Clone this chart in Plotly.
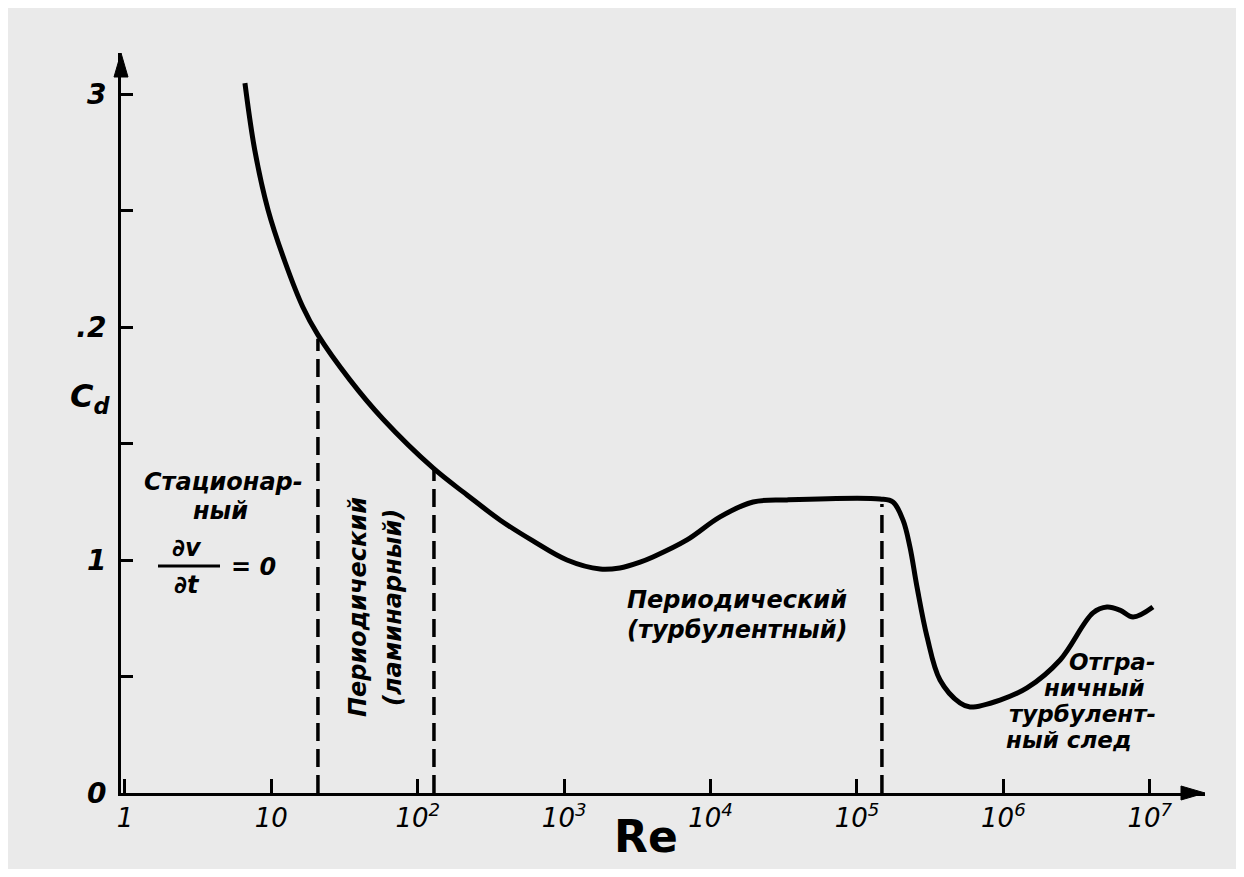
import plotly.graph_objects as go

# ---- data ----
re_curve = [6.6, 7.7, 9.5, 12.4, 16.4, 20.8, 34.4, 57.8, 127, 217, 364, 612, 1045, 1760,
            2400, 3300, 4040, 6900, 11600, 19500, 33300, 143500, 176000, 206000,
            230000, 257000, 301000, 369000, 506000, 592000, 948000, 1.45e6, 2.44e6,
            4.09e6, 5.1e6, 6.25e6, 7.68e6, 1.05e7]
cd_curve = [3.047, 2.76, 2.502, 2.279, 2.086, 1.966, 1.773, 1.605, 1.395, 1.279, 1.172, 1.082,
            1.0, 0.961, 0.966, 0.991, 1.013, 1.086, 1.185, 1.249, 1.258, 1.262, 1.249, 1.172,
            1.056, 0.884, 0.67, 0.485, 0.386, 0.369, 0.399, 0.451, 0.571,
            0.773, 0.798, 0.785, 0.755, 0.798]

boundary_re = [20.8, 129, 148000]
boundary_cd = [1.95, 1.39, 1.24]

x_tick_vals = [1, 10, 100, 1e3, 1e4, 1e5, 1e6, 1e7]
x_tick_text = ["1", "10", "10<sup>2</sup>", "10<sup>3</sup>", "10<sup>4</sup>",
               "10<sup>5</sup>", "10<sup>6</sup>", "10<sup>7</sup>"]
y_tick_vals = [0, 1, 2, 3]
y_tick_text = ["0", "1", ".2", "3"]
y_minor_vals = [0.5, 1.5, 2.5]

# ---- layout geometry (page has an 8px body margin) ----
OFF = 8
W, H = 1228, 861
L, R, T, B = 113, 31, 45, 76
PW, PH = W - L - R, H - T - B
BG = "#eaeaea"
FONT = "DejaVu Sans"


def px(xp):
    return (xp - OFF - L) / PW


def py(yp):
    return (H - B - (yp - OFF)) / PH


fig = go.Figure()

for r, c in zip(boundary_re, boundary_cd):
    fig.add_trace(go.Scatter(x=[r, r], y=[0, c], mode="lines",
                             line=dict(color="black", width=3.5, dash="18px,8px"),
                             hoverinfo="skip", showlegend=False))

fig.add_trace(go.Scatter(x=re_curve, y=cd_curve, mode="lines",
                         line=dict(color="black", width=5, shape="spline", smoothing=1.0),
                         showlegend=False))

ann = []
it = dict(family=FONT, size=24, color="black", style="italic", weight="bold")
it_small = dict(family=FONT, size=23, color="black", style="italic", weight="bold")


def txt(text, xp, yp, font=it, **kw):
    ann.append(dict(text=text, x=px(xp), y=py(yp), xref="paper", yref="paper",
                    showarrow=False, font=font, xanchor="center", yanchor="middle", **kw))


txt("Стационар-", 223, 482)
txt("ный", 220, 511)
txt("∂v", 187, 548)
txt("∂t", 187, 585)
txt("= 0", 253, 567)
txt("Периодический", 358, 607, textangle=-90)
txt("(ламинарный)", 393, 608, textangle=-90)
txt("Периодический", 737, 600)
txt("(турбулентный)", 737, 630)
txt("Отгра-", 1112, 662, font=it_small)
txt("ничный", 1094, 688, font=it_small)
txt("турбулент-", 1082, 714, font=it_small)
txt("ный след", 1068, 740, font=it_small)
txt("Re", 646, 836, font=dict(family=FONT, size=44, color="black", weight="bold"))
txt("C<sub>d</sub>", 90, 398, font=dict(family=FONT, size=32, color="black",
                                          style="italic", weight="bold"))

# axis arrowheads as filled triangles (paper coordinates)
ax_len, ax_half = 24 / PW, 7 / PH
ay_len, ay_half = 24 / PH, 7 / PW
shapes = [
    dict(type="path", xref="paper", yref="paper",
         path=f"M 1,0 L {1 - ax_len},{ax_half} L {1 - ax_len},{-ax_half} Z",
         fillcolor="black", line=dict(color="black", width=1)),
    dict(type="path", xref="paper", yref="paper",
         path=f"M 0,1 L {-ay_half},{1 - ay_len} L {ay_half},{1 - ay_len} Z",
         fillcolor="black", line=dict(color="black", width=1)),
    dict(type="line", xref="paper", yref="paper", x0=px(158), x1=px(220),
         y0=py(566), y1=py(566), line=dict(color="black", width=3)),
]

fig.update_layout(
    width=W, height=H,
    margin=dict(l=L, r=R, t=T, b=B),
    paper_bgcolor=BG, plot_bgcolor=BG,
    annotations=ann, shapes=shapes,
    xaxis=dict(type="log", range=[-0.027, 7.377], showgrid=False, zeroline=False,
               showline=True, linecolor="black", linewidth=3,
               ticks="inside", ticklen=14, tickwidth=3, tickcolor="black",
               tickvals=x_tick_vals, ticktext=x_tick_text,
               tickfont=dict(family=FONT, size=26, color="black", style="italic")),
    yaxis=dict(range=[0, 3.176], showgrid=False, zeroline=False,
               showline=True, linecolor="black", linewidth=3,
               ticks="inside", ticklen=12, tickwidth=3, tickcolor="black",
               tickvals=y_tick_vals, ticktext=y_tick_text, ticklabelstandoff=6,
               minor=dict(tickvals=y_minor_vals, ticks="inside", ticklen=12,
                          tickwidth=3, tickcolor="black", showgrid=False),
               tickfont=dict(family=FONT, size=28, color="black", style="italic",
                             weight="bold")),
)

fig.write_html("out.html")
